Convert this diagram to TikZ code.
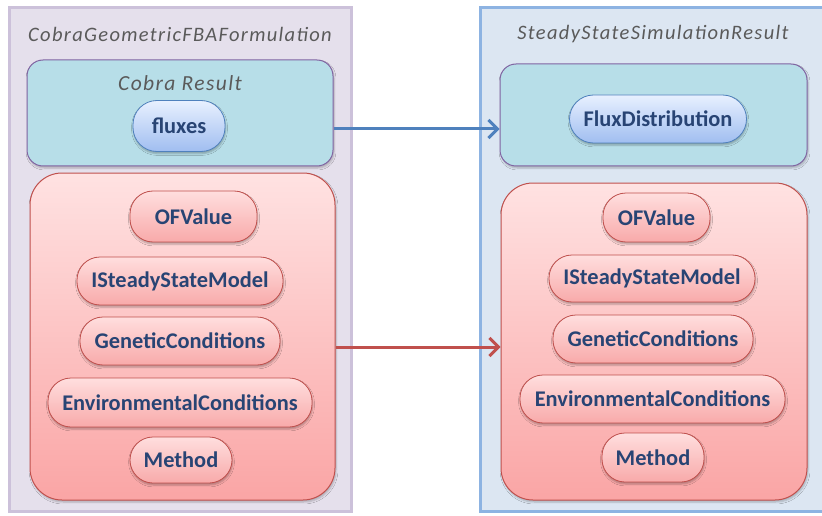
\documentclass[tikz,border=0pt]{standalone}
\usepackage{fontspec}
\setmainfont{Carlito}
\newfontfamily\spacedfont[LetterSpace=6.5]{Carlito}
\usetikzlibrary{arrows.meta,shadows.blur}
\definecolor{lavfill}{RGB}{229,224,236}
\definecolor{lavline}{RGB}{204,193,218}
\definecolor{bluefill}{RGB}{220,230,242}
\definecolor{blueline}{RGB}{141,179,226}
\definecolor{cyanfill}{RGB}{183,222,232}
\definecolor{purpline}{RGB}{128,100,162}
\definecolor{redline}{RGB}{192,80,77}
\definecolor{redtop}{RGB}{255,226,226}
\definecolor{redbot}{RGB}{250,165,165}
\definecolor{pilltop}{RGB}{255,222,222}
\definecolor{pillbot}{RGB}{248,170,170}
\definecolor{bpilltop}{RGB}{232,240,255}
\definecolor{bpillbot}{RGB}{160,190,240}
\definecolor{bpillline}{RGB}{79,129,189}
\definecolor{labelcol}{RGB}{40,68,116}
\definecolor{titlecol}{RGB}{90,90,90}
\definecolor{arrblue}{RGB}{79,129,189}
\definecolor{arrred}{RGB}{192,80,77}
\tikzset{
  outerL/.style={draw=lavline, line width=3pt, fill=lavfill, minimum width=#1},
  outerR/.style={draw=blueline, line width=3pt, fill=bluefill},
  cyanbox/.style={draw=purpline, line width=1pt, fill=cyanfill, rounded corners=16pt, blur shadow={shadow blur steps=5, shadow xshift=1pt, shadow yshift=-2pt, shadow opacity=25}},
  redbox/.style={draw=redline, line width=1pt, top color=redtop, bottom color=redbot, rounded corners=32pt, blur shadow={shadow blur steps=5, shadow xshift=1pt, shadow yshift=-2pt, shadow opacity=25}},
  redpill/.style={draw=redline, line width=0.8pt, top color=pilltop, bottom color=pillbot, rounded corners=23pt, font=\fontsize{22.4}{24}\selectfont\bfseries, text=labelcol, inner sep=0pt, blur shadow={shadow blur steps=4, shadow xshift=0.5pt, shadow yshift=-2pt, shadow opacity=30}},
  bluepill/.style={draw=bpillline, line width=0.8pt, top color=bpilltop, bottom color=bpillbot, rounded corners=24pt, font=\fontsize{22.4}{24}\selectfont\bfseries, text=labelcol, inner sep=0pt, blur shadow={shadow blur steps=4, shadow xshift=0.5pt, shadow yshift=-2pt, shadow opacity=30}},
  titletext/.style={font=\fontsize{20.5}{22}\spacedfont\itshape, text=titlecol},
  connB/.style={draw=arrblue, line width=3pt, -{Straight Barb[length=9pt,width=18pt,line width=3pt]}},
  connR/.style={draw=arrred, line width=3pt, -{Straight Barb[length=9pt,width=18pt,line width=3pt]}},
}
\begin{document}
\begin{tikzpicture}[x=1pt,y=-1pt]
\useasboundingbox (0,0) rectangle (822,516);
\fill[white] (0,0) rectangle (822,516);
\begin{scope}
\clip (0,0) rectangle (822,516);
% outer containers
\node[outerL={342pt}, minimum height=503pt, inner sep=0pt] (outL) at (180.5,259.5) {};
\node[outerR, minimum width=348pt, minimum height=503pt, inner sep=0pt] (outR) at (654.5,259.5) {};
\end{scope}
\node[titletext] (titleL) at (180,34) {CobraGeometricFBAFormulation};
\node[titletext] (titleR) at (653,34) {SteadyStateSimulationResult};
% cyan boxes
\node[cyanbox, minimum width=306pt, minimum height=106pt, inner sep=0pt] (cyL) at (180,113) {};
\node[cyanbox, minimum width=307pt, minimum height=102pt, inner sep=0pt] (cyR) at (653.5,115) {};
\node[titletext, font=\fontsize{21.5}{23}\spacedfont\itshape] (cobraRes) at (180,83) {Cobra Result};
\node[bluepill, minimum width=92pt, minimum height=51pt] (fluxes) at (179,126) {fluxes};
\node[bluepill, minimum width=177pt, minimum height=48pt] (fluxDist) at (658,119) {FluxDistribution};
% red containers
\node[redbox, minimum width=305pt, minimum height=327pt, inner sep=0pt] (rdL) at (182.5,336.5) {};
\node[redbox, minimum width=306pt, minimum height=317pt, inner sep=0pt] (rdR) at (654,341.5) {};
% left pills
\node[redpill, minimum width=127pt, minimum height=51pt] (ofvL) at (193.5,216.5) {OFValue};
\node[redpill, minimum width=206pt, minimum height=48pt] (issL) at (180,281) {ISteadyStateModel};
\node[redpill, minimum width=200pt, minimum height=48pt] (genL) at (180,341) {GeneticConditions};
\node[redpill, minimum width=264pt, minimum height=49pt] (envL) at (180,402.5) {EnvironmentalConditions};
\node[redpill, minimum width=102pt, minimum height=46pt] (metL) at (181,460) {Method};
% right pills
\node[redpill, minimum width=107pt, minimum height=49pt] (ofvR) at (656.5,217.5) {OFValue};
\node[redpill, minimum width=206pt, minimum height=47pt] (issR) at (652,278.5) {ISteadyStateModel};
\node[redpill, minimum width=200pt, minimum height=48pt] (genR) at (653,339) {GeneticConditions};
\node[redpill, minimum width=265pt, minimum height=48pt] (envR) at (652.5,399) {EnvironmentalConditions};
\node[redpill, minimum width=102pt, minimum height=49pt] (metR) at (653,457.5) {Method};
% connectors
\draw[connB] ([yshift=-16pt]cyL.east) -- ([yshift=-16pt]cyL.east -| cyR.west);
\draw[connR] ([yshift=-10.5pt]rdL.east) -- ([yshift=-10.5pt]rdL.east -| rdR.west);
\end{tikzpicture}
\end{document}
